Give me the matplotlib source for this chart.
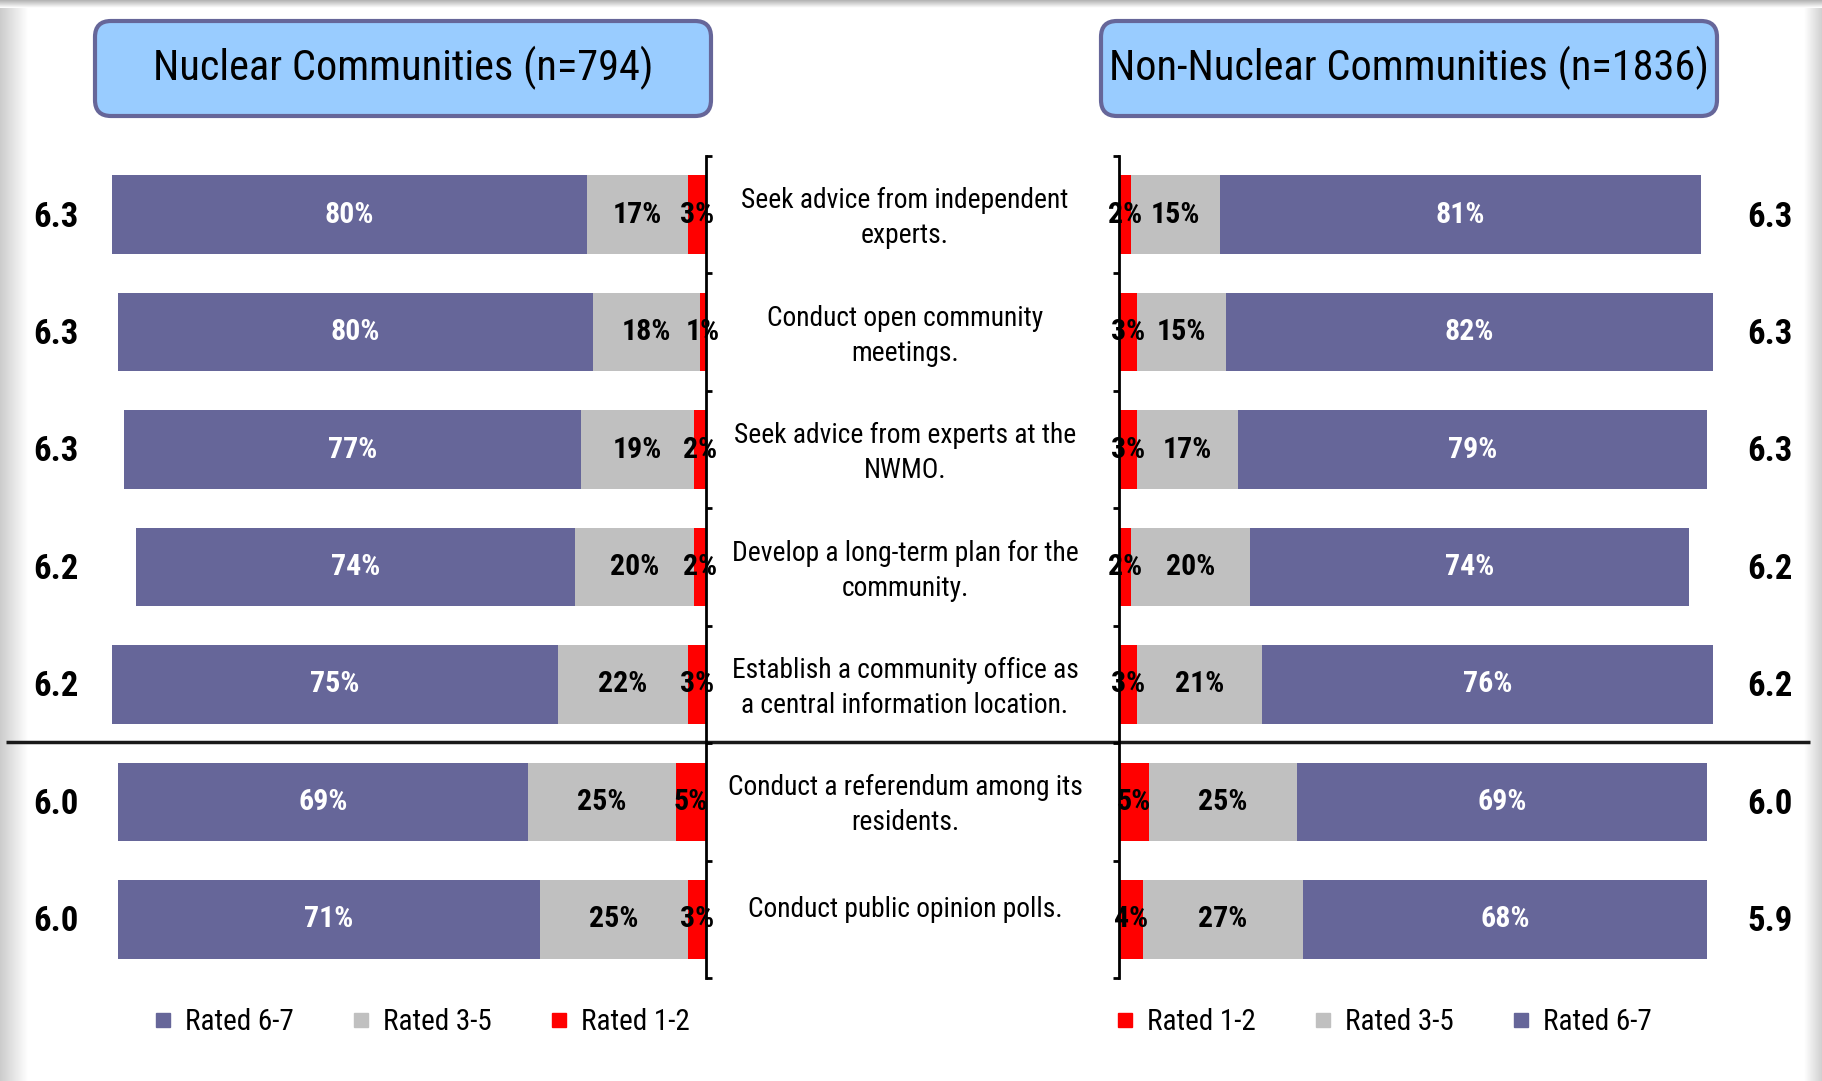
import numpy as np
import matplotlib
matplotlib.use("Agg")
import matplotlib.pyplot as plt
from matplotlib import font_manager, transforms
from matplotlib.patches import FancyBboxPatch
from matplotlib.lines import Line2D

# ---------------- data ----------------
items = [
    "Seek advice from independent\nexperts.",
    "Conduct open community\nmeetings.",
    "Seek advice from experts at the\nNWMO.",
    "Develop a long-term plan for the\ncommunity.",
    "Establish a community office as\na central information location.",
    "Conduct a referendum among its\nresidents.",
    "Conduct public opinion polls.",
]
nuc_67 = [80, 80, 77, 74, 75, 69, 71]
nuc_35 = [17, 18, 19, 20, 22, 25, 25]
nuc_12 = [3, 1, 2, 2, 3, 5, 3]
nuc_mean = [6.3, 6.3, 6.3, 6.2, 6.2, 6.0, 6.0]

non_12 = [2, 3, 3, 2, 3, 5, 4]
non_35 = [15, 15, 17, 20, 21, 25, 27]
non_67 = [81, 82, 79, 74, 76, 69, 68]
non_mean = [6.3, 6.3, 6.3, 6.2, 6.2, 6.0, 5.9]

title_left = "Nuclear Communities (n=794)"
title_right = "Non-Nuclear Communities (n=1836)"
leg_labels = ["Rated 6-7", "Rated 3-5", "Rated 1-2"]

C67, C35, C12 = "#666699", "#C0C0C0", "#FF0000"

# pick an Arial-Narrow-like family that has regular and bold
weights = {}
for f in font_manager.fontManager.ttflist:
    weights.setdefault(f.name, set()).add(f.weight)
NARROW = "Liberation Sans"
for cand in ["Liberation Sans Narrow", "Arial Narrow", "Roboto Condensed", "Archivo Narrow",
             "PT Sans Narrow", "Open Sans Condensed"]:
    w = weights.get(cand, set())
    if 400 in w and any(x >= 700 for x in w if isinstance(x, int)):
        NARROW = cand
        break
plt.rcParams["font.family"] = [NARROW, "DejaVu Sans"]

W, H = 1822, 1081
fig = plt.figure(figsize=(W / 100, H / 100), dpi=100)
fig.patch.set_facecolor("white")

# background axes in pixel coordinates
bg = fig.add_axes([0, 0, 1, 1], zorder=0)
bg.set_xlim(0, W)
bg.set_ylim(H, 0)
bg.axis("off")
grad = np.linspace(0.80, 1.0, 64)[None, :]
bg.imshow(np.dstack([grad] * 3), extent=(0, 28, H, 0), aspect="auto", zorder=0)
gradr = np.linspace(1.0, 0.82, 32)[None, :]
bg.imshow(np.dstack([gradr] * 3), extent=(1804, W, H, 0), aspect="auto", zorder=0)
gradt = np.linspace(0.70, 1.0, 16)[:, None]
bg.imshow(np.dstack([np.repeat(gradt, 4, axis=1)] * 3), extent=(0, W, 8, 0), aspect="auto", zorder=0)

for (x0, x1), t in [((95, 711), title_left), ((1101, 1717), title_right)]:
    box = FancyBboxPatch((x0, 21), x1 - x0, 95, boxstyle="round,pad=0,rounding_size=16",
                         fc="#99CCFF", ec="#666699", lw=3, zorder=2)
    bg.add_patch(box)
    bg.text((x0 + x1) / 2, 68, t, ha="center", va="center", fontsize=30.5, color="black", zorder=3)

# separator line
bg.plot([6, 1810], [742, 742], color="#1a1a1a", lw=2.5, zorder=1, solid_capstyle="butt")

# ---------------- bar axes ----------------
bottom, height = 1 - 978 / H, 822 / H
axL = fig.add_axes([112 / W, bottom, 594 / W, height], zorder=2)
axR = fig.add_axes([1119 / W, bottom, 594 / W, height], zorder=2)
y = np.arange(len(items))
bh = 0.67

def seg_label(ax, left, width, val, color, ypos):
    ax.text(left + width / 2, ypos, f"{val}%", ha="center", va="center",
            fontsize=21.5, fontweight="bold", color=color)

for ax in (axL, axR):
    ax.set_facecolor("none")
    ax.set_xlim(0, 100)
    ax.set_ylim(len(items) - 0.5, -0.5)
    for s in ("top", "bottom", "left", "right"):
        ax.spines[s].set_visible(False)
    ax.set_xticks([])
    ax.set_yticks(np.arange(-0.5, len(items) + 0.5, 1))
    ax.set_yticklabels([])

axL.invert_xaxis()
axL.spines["right"].set_visible(True)
axL.spines["right"].set_linewidth(2)
axL.yaxis.tick_right()
axL.tick_params(axis="y", direction="out", length=4, width=2, right=True, left=False)
axL.barh(y, nuc_12, height=bh, color=C12, label=leg_labels[2])
axL.barh(y, nuc_35, left=nuc_12, height=bh, color=C35, label=leg_labels[1])
axL.barh(y, nuc_67, left=np.add(nuc_12, nuc_35), height=bh, color=C67, label=leg_labels[0])
for i in range(len(items)):
    seg_label(axL, 0, nuc_12[i], nuc_12[i], "black", i)
    seg_label(axL, nuc_12[i], nuc_35[i], nuc_35[i], "black", i)
    seg_label(axL, nuc_12[i] + nuc_35[i], nuc_67[i], nuc_67[i], "white", i)

axR.spines["left"].set_visible(True)
axR.spines["left"].set_linewidth(2)
axR.tick_params(axis="y", direction="out", length=4, width=2, left=True)
axR.barh(y, non_12, height=bh, color=C12, label=leg_labels[2])
axR.barh(y, non_35, left=non_12, height=bh, color=C35, label=leg_labels[1])
axR.barh(y, non_67, left=np.add(non_12, non_35), height=bh, color=C67, label=leg_labels[0])
for i in range(len(items)):
    seg_label(axR, 0, non_12[i], non_12[i], "black", i)
    seg_label(axR, non_12[i], non_35[i], non_35[i], "black", i)
    seg_label(axR, non_12[i] + non_35[i], non_67[i], non_67[i], "white", i)

trL = transforms.blended_transform_factory(fig.transFigure, axL.transData)
for i, (item, mL, mR) in enumerate(zip(items, nuc_mean, non_mean)):
    fig.text(56 / W, i + 0.02, f"{mL:.1f}", transform=trL, ha="center", va="center",
             fontsize=25, fontweight="bold")
    fig.text(1770 / W, i + 0.02, f"{mR:.1f}", transform=trL, ha="center", va="center",
             fontsize=25, fontweight="bold")
    off = 0.03 if "\n" in item else -0.08
    fig.text(905 / W, i + off, item, transform=trL, ha="center", va="center",
             fontsize=19.8, linespacing=1.38)

def handles(order):
    cols = {leg_labels[0]: C67, leg_labels[1]: C35, leg_labels[2]: C12}
    return [Line2D([], [], marker="s", ls="none", ms=10, color=cols[l], label=l) for l in order]

for order, cx in [(leg_labels, 422), (leg_labels[::-1], 1384)]:
    fig.legend(handles=handles(order), loc="center", bbox_to_anchor=(cx / W, 1 - 1022 / H),
               ncol=3, frameon=False, fontsize=21, handletextpad=0.45, columnspacing=2.0,
               handlelength=0.6)

fig.savefig("out.png", dpi=100, facecolor="white")
